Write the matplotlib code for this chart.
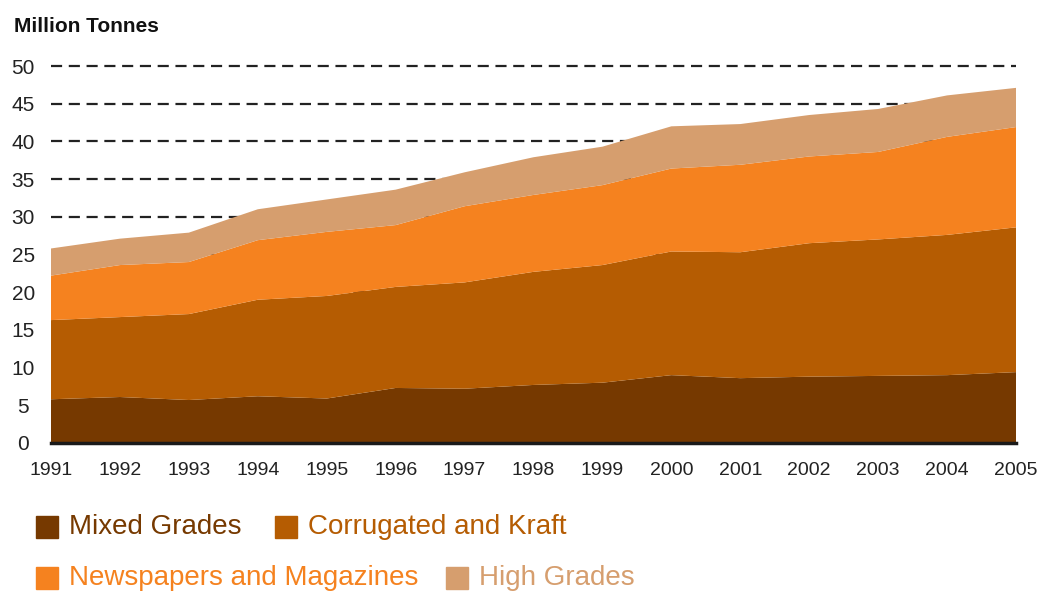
import matplotlib
matplotlib.use('Agg')
import matplotlib.pyplot as plt
from matplotlib.patches import Rectangle

plt.rcParams['font.family'] = ['Liberation Sans Narrow', 'Liberation Sans', 'DejaVu Sans']

# Data (million tonnes)
years = [1991, 1992, 1993, 1994, 1995, 1996, 1997, 1998, 1999,
         2000, 2001, 2002, 2003, 2004, 2005]
mixed_grades = [5.8, 6.1, 5.7, 6.2, 5.9, 7.3, 7.2, 7.7, 8.0,
                9.0, 8.6, 8.8, 8.9, 9.0, 9.4]
corrugated_kraft = [10.5, 10.6, 11.4, 12.8, 13.6, 13.4, 14.1, 15.0, 15.6,
                    16.4, 16.7, 17.7, 18.1, 18.6, 19.2]
newspapers_magazines = [5.9, 6.9, 6.9, 7.9, 8.5, 8.2, 10.1, 10.2, 10.6,
                        11.0, 11.6, 11.5, 11.6, 13.0, 13.3]
high_grades = [3.6, 3.5, 3.9, 4.1, 4.3, 4.7, 4.5, 5.0, 5.1,
               5.6, 5.4, 5.5, 5.7, 5.5, 5.2]

labels = ['Mixed Grades', 'Corrugated and Kraft',
          'Newspapers and Magazines', 'High Grades']
colors = ['#763900', '#b55c02', '#f5821f', '#d69e6e']

fig = plt.figure(figsize=(10.42, 5.94), dpi=100)
ax = fig.add_axes([51 / 1042, 1 - 443 / 594, 965 / 1042, 377 / 594])

# dashed gridlines behind the stacked areas
for y in range(5, 55, 5):
    ax.axhline(y, color='#222222', lw=1.6, dashes=(5, 3), zorder=0,
               clip_on=False)

ax.stackplot(years, mixed_grades, corrugated_kraft, newspapers_magazines,
             high_grades, colors=colors, zorder=2, lw=0)
ax.axhline(0, color='#1a1a1a', lw=2.5, zorder=3, clip_on=False)

ax.set_xlim(1991, 2005)
ax.set_ylim(0, 50)
ax.set_xticks(years)
ax.set_xticklabels([str(y) for y in years], fontsize=14, color='#222222')
ax.set_yticks(range(0, 55, 5))
ax.set_yticklabels([str(v) for v in range(0, 55, 5)], fontsize=15,
                   color='#222222')
ax.tick_params(axis='y', length=0, pad=20)
ax.tick_params(axis='x', length=0, pad=14)
for lab in ax.get_yticklabels():
    lab.set_horizontalalignment('center')
for s in ax.spines.values():
    s.set_visible(False)

fig.text(14 / 1042, 1 - 26 / 594, 'Million Tonnes', fontsize=15,
         fontweight='bold', color='#111111', va='center',
         family=['Liberation Sans', 'DejaVu Sans'])

# legend, laid out as in the reference
legend_pos = [(36, 527), (275, 527), (36, 578), (446, 578)]
for (px, py), lab, col in zip(legend_pos, labels, colors):
    fig.patches.append(Rectangle((px / 1042, 1 - (py + 11) / 594),
                                 22 / 1042, 22 / 594, color=col,
                                 transform=fig.transFigure, figure=fig))
    fig.text((px + 33) / 1042, 1 - py / 594, lab, fontsize=20,
             color=col, va='center')

fig.savefig('out.png', dpi=100)
